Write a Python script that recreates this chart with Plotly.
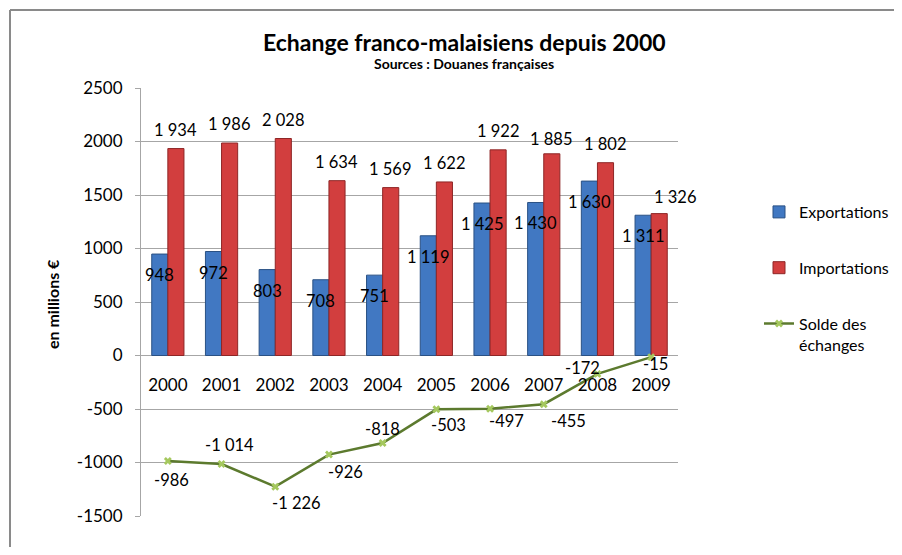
import plotly.graph_objects as go

# ---- data ----
years = ["2000", "2001", "2002", "2003", "2004", "2005", "2006", "2007", "2008", "2009"]
exportations = [948, 972, 803, 708, 751, 1119, 1425, 1430, 1630, 1311]
importations = [1934, 1986, 2028, 1634, 1569, 1622, 1922, 1885, 1802, 1326]
solde = [-986, -1014, -1226, -926, -818, -503, -497, -455, -172, -15]
y_tickvals = [-1500, -1000, -500, 0, 500, 1000, 1500, 2000, 2500]
y_ticktext = ["-1500", "-1000", "-500", "0", "500", "1000", "1500", "2000", "2500"]

# ---- label placement (styling, pixel offsets) ----
solde_label_dx = [4, 8, 21, 17, 0, 12, 16, 25, -15, 4]
solde_label_dy = [-19, 19, -16, -17, 14, -16, -12, -17, 6, -7]
imp_label_dx = [0, 0, 0, 0, 0, 0, 0, 0, 0, 16]
imp_label_dy = [19, 19, 19, 19, 19, 19, 19, 15, 19, 17]

FONT = "Lato, Open Sans, sans-serif"
OFF = 8  # default page body margin
W, H = 902 - 2 * OFF, 555 - 2 * OFF
# plot area in page (reference) pixels
PL, PR, PT, PB = 141, 678, 88, 516
L, R, T, B = PL - OFF, PR - OFF, PT - OFF, PB - OFF


def px2x(px):
    return (px - PL) / (PR - PL)


def px2y(py):
    return (PB - py) / (PB - PT)


def fmt(v):
    return f"{v:,}".replace(",", " ")


fig = go.Figure()
fig.add_trace(go.Bar(
    x=years, y=exportations, name="Exportations",
    marker=dict(color="#4178C2", line=dict(color="#2A5184", width=1)),
    legendgroup="a",
))
fig.add_trace(go.Bar(
    x=years, y=importations, name="Importations",
    marker=dict(color="#D23E3E", line=dict(color="#8E2626", width=1)),
    legendgroup="b",
))
fig.add_trace(go.Scatter(
    x=years, y=solde, name="Solde des<br>échanges", mode="lines+markers",
    line=dict(color="#5C7A2E", width=2.5),
    marker=dict(symbol="x", size=7, color="#A5C85E", line=dict(width=0)),
    legendgroup="c",
))

LBL = dict(family=FONT, size=16.5, color="#000")
annotations = []
for i, yr in enumerate(years):
    annotations.append(dict(x=i, y=exportations[i], xref="x", yref="y", text=fmt(exportations[i]),
                            showarrow=False, xshift=-8, yshift=-21, font=LBL))
    annotations.append(dict(x=i, y=importations[i], xref="x", yref="y", text=fmt(importations[i]),
                            showarrow=False, xshift=8 + imp_label_dx[i], yshift=imp_label_dy[i], font=LBL))
    annotations.append(dict(x=i, y=solde[i], xref="x", yref="y", text=fmt(solde[i]),
                            showarrow=False, xshift=solde_label_dx[i], yshift=solde_label_dy[i], font=LBL))

annotations.append(dict(x=px2x(464), y=px2y(42), xref="paper", yref="paper",
                        text="<b>Echange franco-malaisiens depuis 2000</b>", showarrow=False,
                        xanchor="center", yanchor="middle",
                        font=dict(family=FONT, size=23, color="#000")))
annotations.append(dict(x=px2x(464), y=px2y(63), xref="paper", yref="paper",
                        text="<b>Sources : Douanes françaises</b>", showarrow=False,
                        xanchor="center", yanchor="middle",
                        font=dict(family=FONT, size=14, color="#000")))
annotations.append(dict(x=px2x(52), y=px2y(304), xref="paper", yref="paper",
                        text="<b>en millions €</b>", showarrow=False, textangle=-90,
                        xanchor="center", yanchor="middle",
                        font=dict(family=FONT, size=16, color="#000")))

shapes = [
    dict(type="line", xref="paper", yref="paper", x0=px2x(10), x1=px2x(910), y0=px2y(10), y1=px2y(10),
         line=dict(color="#8A8A8A", width=2)),
    dict(type="line", xref="paper", yref="paper", x0=px2x(10), x1=px2x(10), y0=px2y(10), y1=px2y(560),
         line=dict(color="#8A8A8A", width=2)),
]

fig.update_layout(
    width=W, height=H,
    margin=dict(l=L, r=W - R, t=T, b=H - B, autoexpand=False),
    paper_bgcolor="white", plot_bgcolor="white",
    font=dict(family=FONT, size=17, color="#000"),
    barmode="group", bargap=0.4, bargroupgap=0,
    showlegend=True,
    legend=dict(x=px2x(759), y=px2y(195), xanchor="left", yanchor="top",
                font=dict(family=FONT, size=16, color="#000"),
                tracegroupgap=32, valign="top", itemwidth=30,
                bgcolor="rgba(0,0,0,0)"),
    annotations=annotations,
    shapes=shapes,
    xaxis=dict(type="category", range=[-0.5, 9.5], anchor="free", position=0.375, showline=False,
               ticks="", showgrid=False, ticklabelstandoff=17, tickfont=dict(family=FONT, size=17),
               fixedrange=True),
    yaxis=dict(range=[-1500, 2500], tickvals=y_tickvals, ticktext=y_ticktext,
               showline=True, linecolor="#A6A6A6", linewidth=1,
               ticks="outside", ticklen=5, tickcolor="#A6A6A6",
               showgrid=True, gridcolor="#A6A6A6", gridwidth=1,
               zeroline=True, zerolinecolor="#A6A6A6", zerolinewidth=1,
               ticklabelstandoff=9, tickfont=dict(family=FONT, size=17),
               fixedrange=True),
)

fig.write_html("out.html")
